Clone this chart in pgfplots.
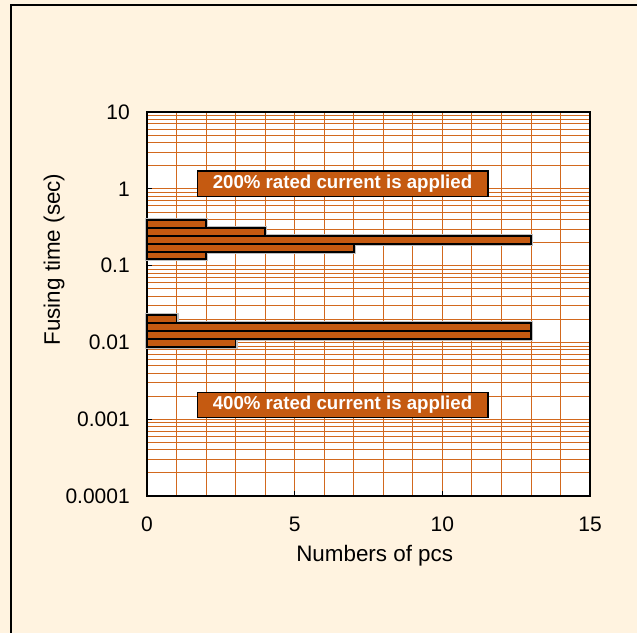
\documentclass[border=0pt]{standalone}
\usepackage{fontspec}
\setmainfont{Liberation Sans}
\usepackage{pgfplots}
\pgfplotsset{compat=1.18}

\definecolor{bgc}{HTML}{FFF3E0}
\definecolor{barc}{HTML}{C55A11}
\definecolor{gridc}{HTML}{D2691E}

\pgfplotsset{histbar/.style={xbar interval, fill=barc, draw=black,
    line width=1.2pt, preaction={draw=black!25, line width=3pt}}}

\begin{document}
\begin{tikzpicture}
% page background (1px = 0.75pt, axis south west at pixel 147,496)
\fill[bgc] (-110.25pt,-102.75pt) rectangle (367.5pt,372pt);
\draw[black, line width=1.5pt] (-102pt,-102.75pt) -- (-102pt,368.25pt) -- (367.5pt,368.25pt);

\begin{axis}[
  scale only axis,
  width=332.25pt, height=288pt,
  ymode=log,
  xmin=0, xmax=15,
  ymin=1e-4, ymax=10,
  xtick={0,5,10,15},
  minor x tick num=4,
  ytick={1e-4,1e-3,1e-2,1e-1,1,10},
  yticklabels={0.0001,0.001,0.01,0.1,1,10},
  xtick pos=bottom, ytick pos=left,
  tick align=inside,
  major tick length=4pt, minor tick length=0pt,
  tick style={black, line width=0.8pt},
  grid=both,
  major grid style={gridc, line width=0.7pt},
  minor grid style={gridc, line width=0.6pt},
  axis line style={black, line width=1pt},
  axis background/.style={fill=white},
  /pgf/number format/assume math mode=true,
  tick label style={font=\fontsize{15.75}{18}\selectfont},
  yticklabel style={anchor=east, inner sep=0pt, xshift=-12.75pt},
  xticklabel style={anchor=north, inner sep=0pt, yshift=-15.75pt},
  label style={font=\fontsize{16.8}{19}\selectfont},
  xlabel={Numbers of pcs},
  ylabel={Fusing time (sec)},
  xlabel style={at={(axis description cs:0.514,-0.156)}, anchor=center},
  ylabel style={at={(axis description cs:-0.21,0.616)}, anchor=center},
  clip=false,
]
% 200% rated current
\addplot[histbar] coordinates {(2,0.122) (7,0.150) (13,0.191) (4,0.243) (2,0.309) (2,0.393)};
% 400% rated current
\addplot[histbar] coordinates {(3,0.0087) (13,0.0111) (13,0.0141) (1,0.0179) (1,0.0228)};

\node[fill=barc, draw=black, line width=1pt, text=white,
      font=\bfseries\fontsize{14}{16}\selectfont,
      minimum width=218pt, minimum height=19pt, inner sep=0pt]
  at (axis cs:6.62,1.17) {200\% rated current is applied};
\node[fill=barc, draw=black, line width=1pt, text=white,
      font=\bfseries\fontsize{14}{16}\selectfont,
      minimum width=218pt, minimum height=19pt, inner sep=0pt]
  at (axis cs:6.62,0.00153) {400\% rated current is applied};
\end{axis}
\end{tikzpicture}
\end{document}
